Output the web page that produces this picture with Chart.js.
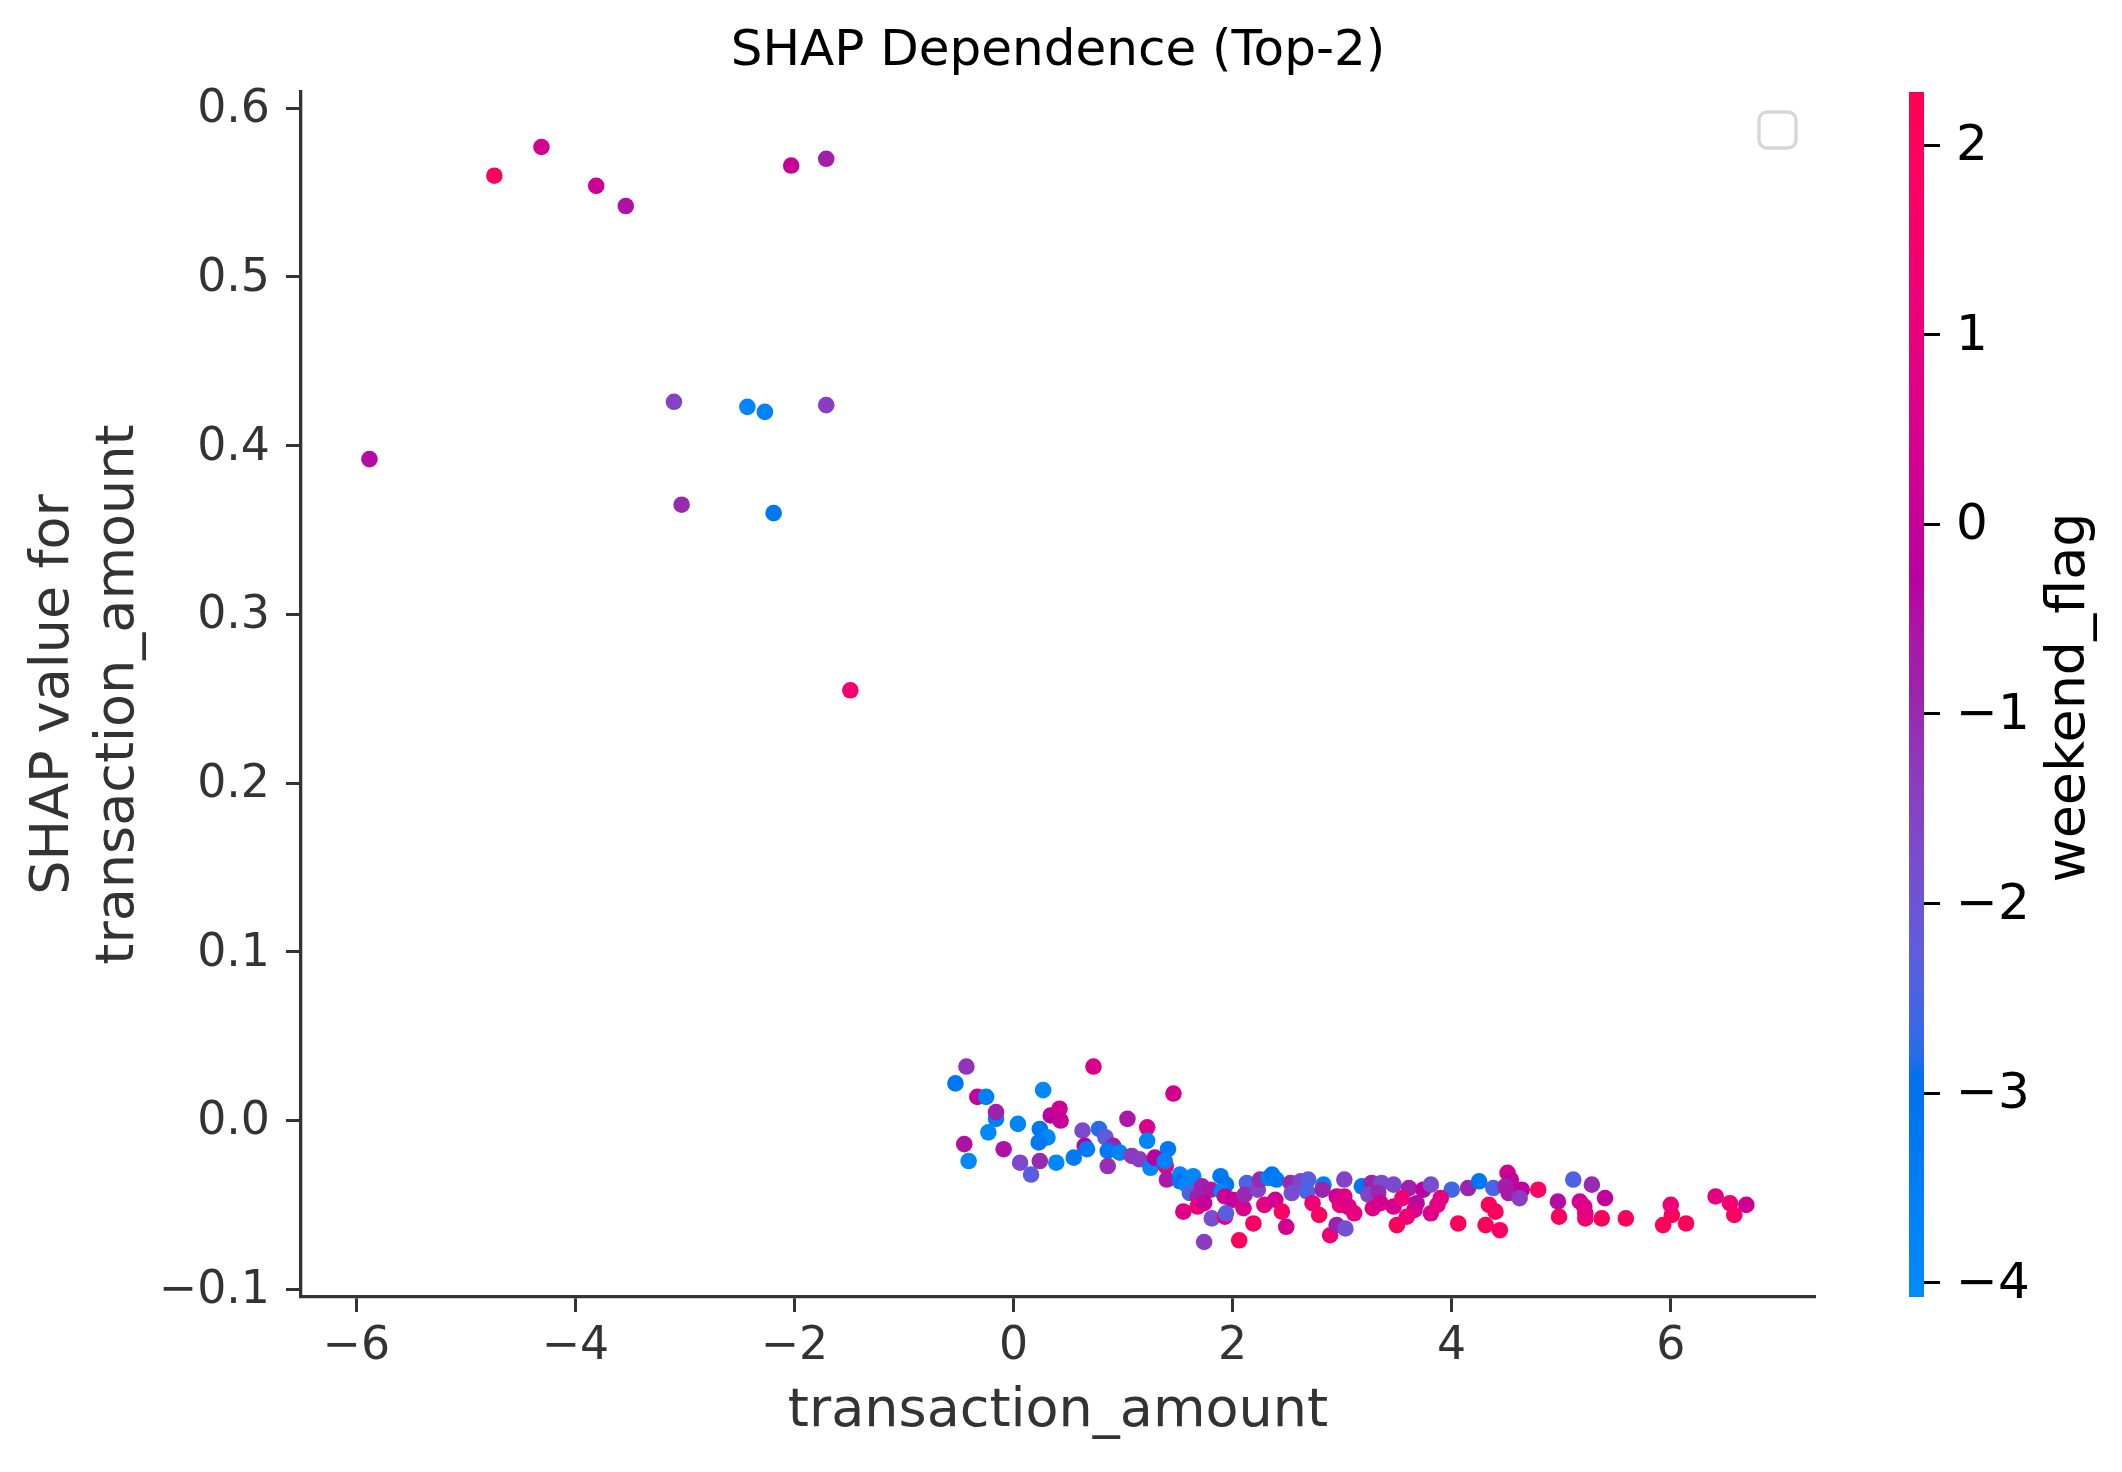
<!DOCTYPE html>
<html>
<head>
<meta charset="utf-8">
<title>SHAP Dependence (Top-2)</title>
<script src="https://cdn.jsdelivr.net/npm/chart.js@4.4.1/dist/chart.umd.min.js"></script>
<style>
  html, body { margin: 0; padding: 0; background: #fff; overflow: hidden; }
  #wrap { position: relative; width: 2122px; height: 1472px; }
  #shapChart { position: absolute; left: 0; top: 0; }
  #colorbar { position: absolute; left: 1815px; top: 0; }
</style>
</head>
<body>
<div id="wrap">
  <canvas id="shapChart" width="2122" height="1472"></canvas>
  <canvas id="colorbar" width="307" height="1472"></canvas>
</div>
<script>
// === DATA ===
const transactionAmount = [
  -5.88, -4.74, -4.31, -3.81, -3.54, -2.03, -1.71, -3.10, -2.43, -2.27, -1.71, -3.03, -2.19, -1.49,
  -0.53, -0.43, -0.33, -0.25, -0.16, -0.16, -0.23, -0.45, -0.41, -0.09, 0.04, 0.27, 0.34, 0.42, 0.43,
  0.24, 0.31, 0.23, 0.06, 0.16, 0.24, 0.39, 0.55, 0.63, 0.65, 0.67, 0.78, 0.84, 0.91, 0.86, 0.86,
  0.97, 1.04, 1.08, 1.15, 1.22, 1.22, 1.25, 0.73, 1.46,
  1.41, 1.29, 1.39, 1.38, 1.40, 1.52, 1.64, 1.52, 1.58, 1.61, 1.72, 1.80, 1.68, 1.55, 1.68, 1.74,
  1.81, 1.74, 1.89, 1.94, 1.90, 1.93, 2.00, 1.93, 1.94, 2.06, 2.10, 2.13, 2.11, 2.19, 2.23, 2.25,
  2.29, 2.33, 2.36, 2.40, 2.39, 2.45, 2.49, 2.53, 2.54, 2.62, 2.69, 2.68, 2.73, 2.79, 2.83, 2.82,
  2.89, 2.95, 2.95, 3.02, 3.03, 2.98, 3.05,
  3.18, 3.27, 3.36, 3.24, 3.33, 3.47, 3.61, 3.74, 3.81, 4.00, 4.15, 4.25, 4.38, 4.51, 4.54, 4.49,
  4.52, 4.64, 4.62, 4.79, 3.02, 3.06, 3.11, 3.28, 3.35, 3.47, 3.55, 3.68, 3.66, 3.59, 3.50, 3.81,
  3.87, 3.90, 4.06, 4.34, 4.40, 4.31, 4.44,
  5.11, 5.28, 4.97, 4.98, 5.17, 5.21, 5.22, 5.22, 5.40, 5.37, 5.59, 6.01, 6.00, 5.93, 6.14, 6.41,
  6.54, 6.58, 6.69
];
const shapValue = [
  0.392, 0.560, 0.577, 0.554, 0.542, 0.566, 0.570, 0.426, 0.423, 0.420, 0.424, 0.365, 0.360, 0.255,
  0.022, 0.032, 0.014, 0.014, 0.001, 0.005, -0.007, -0.014, -0.024, -0.017, -0.002, 0.018, 0.003, 0.007, 0.000,
  -0.005, -0.010, -0.013, -0.025, -0.032, -0.024, -0.025, -0.022, -0.006, -0.015, -0.017, -0.005, -0.010, -0.015, -0.018, -0.027,
  -0.019, 0.001, -0.021, -0.023, -0.004, -0.012, -0.028, 0.032, 0.016,
  -0.017, -0.022, -0.027, -0.024, -0.035, -0.032, -0.033, -0.036, -0.038, -0.043, -0.039, -0.041, -0.045, -0.054, -0.051, -0.049,
  -0.058, -0.072, -0.033, -0.038, -0.042, -0.045, -0.047, -0.057, -0.055, -0.071, -0.052, -0.037, -0.044, -0.061, -0.041, -0.035,
  -0.050, -0.034, -0.032, -0.035, -0.047, -0.054, -0.063, -0.037, -0.043, -0.036, -0.035, -0.042, -0.049, -0.056, -0.038, -0.041,
  -0.068, -0.045, -0.062, -0.035, -0.064, -0.050, -0.051,
  -0.039, -0.037, -0.037, -0.044, -0.043, -0.038, -0.040, -0.041, -0.038, -0.041, -0.040, -0.036, -0.040, -0.031, -0.035, -0.039,
  -0.043, -0.041, -0.046, -0.041, -0.045, -0.051, -0.055, -0.052, -0.049, -0.051, -0.046, -0.049, -0.053, -0.057, -0.062, -0.055,
  -0.050, -0.046, -0.061, -0.050, -0.054, -0.062, -0.065,
  -0.035, -0.038, -0.048, -0.057, -0.048, -0.051, -0.058, -0.055, -0.046, -0.058, -0.058, -0.056, -0.050, -0.062, -0.061, -0.045,
  -0.049, -0.056, -0.050
];
const weekendFlag = [
  -0.4, 1.8, 0.3, 0.2, -0.5, 0.0, -0.8, -1.5, -3.8, -3.7, -1.4, -1.0, -3.2, 1.4,
  -3.2, -1.2, 0.0, -3.6, -3.6, -0.8, -3.9, -0.5, -3.9, -0.5, -3.8, -3.9, -0.3, 0.3, 0.0,
  -3.2, -3.9, -3.3, -1.7, -2.3, -1.0, -3.9, -3.4, -1.7, -0.3, -3.4, -2.8, -2.2, -0.8, -3.3, -1.1,
  -3.8, -0.6, -1.3, -1.4, 0.5, -3.8, -3.8, 0.5, 0.3,
  -3.3, -0.3, 1.5, -3.7, -0.6, -3.9, -3.9, -3.2, -3.9, -2.5, -0.8, -0.6, -0.8, 0.6, 1.2, 0.0,
  -1.8, -1.4, -3.3, -3.2, -3.9, 0.2, 0.0, 1.0, -2.3, 1.9, 0.5, -2.5, -1.0, 1.7, -1.5, -1.0,
  0.8, -3.7, -3.2, -3.4, 0.3, 1.8, 0.3, -1.0, -1.8, -1.6, -2.3, -2.5, 1.2, 1.8, -3.6, -0.9,
  1.3, 0.2, -0.8, -1.5, -1.9, 1.0, 1.8,
  -3.2, -0.9, -1.7, -1.6, -1.0, -1.7, -0.8, -0.2, -1.8, -2.6, -0.9, -3.2, -2.5, 0.4, 0.0, -0.8,
  -0.6, -0.2, -1.4, 1.8, 0.6, 0.6, 0.9, 0.6, 0.4, 0.4, 1.2, -0.4, 0.4, 1.2, 1.9, 0.6,
  0.8, 0.9, 1.9, 2.0, 1.9, 2.0, 1.7,
  -2.4, -1.0, -0.4, 1.9, 0.4, 0.6, 1.8, 0.8, -0.1, 1.9, 1.9, 1.9, 1.2, 2.0, 2.0, 0.9,
  1.3, 1.8, 0.2
];

const xTicks = [-6, -4, -2, 0, 2, 4, 6];
const yTicks = [-0.1, 0.0, 0.1, 0.2, 0.3, 0.4, 0.5, 0.6];
const colorTicks = [-4, -3, -2, -1, 0, 1, 2];

const xMin = -6.505, xMax = 7.317;
const yMin = -0.1046, yMax = 0.6096;
const cMin = -4.075, cMax = 2.28;

const FONT = "'DejaVu Sans', 'Liberation Sans', sans-serif";
const AXIS_COLOR = "#333333";

// === SHAP red_blue colormap (Lch interpolation) ===
function lchToRgb(l, c, h) {
  const a = c * Math.cos(h), b = c * Math.sin(h);
  const fy = (l + 16) / 116, fx = fy + a / 500, fz = fy - b / 200;
  const f = (t) => (t > 0.2068966 ? t * t * t : (t - 16 / 116) / 7.787);
  const X = 0.95047 * f(fx), Y = f(fy), Z = 1.08883 * f(fz);
  const lin = [
    3.2404542 * X - 1.5371385 * Y - 0.4985314 * Z,
    -0.969266 * X + 1.8760108 * Y + 0.041556 * Z,
    0.0556434 * X - 0.2040259 * Y + 1.0572252 * Z,
  ];
  return lin.map((v) => {
    const s = v > 0.0031308 ? 1.055 * Math.pow(v, 1 / 2.4) - 0.055 : 12.92 * v;
    return Math.round(Math.min(1, Math.max(0, s)) * 255);
  });
}

function redBlue(t) {
  t = Math.min(1, Math.max(0, t));
  const l = t < 0.5 ? 54 - 14 * (t / 0.5) : 40 + 14 * ((t - 0.5) / 0.5);
  const c = 70 + 20 * t;
  const h = 4.6588 + (0.35470565 + 2 * Math.PI - 4.6588) * t;
  const [r, g, b] = lchToRgb(l, c, h);
  return `rgb(${r},${g},${b})`;
}

const pointColors = weekendFlag.map((v) => redBlue((v - cMin) / (cMax - cMin)));
const minusFmt = (v, digits) =>
  (v < 0 ? "\u2212" : "") + (digits ? Math.abs(v).toFixed(digits) : String(Math.abs(v)));

// empty legend frame, top right of the plot
const emptyLegend = {
  id: "emptyLegend",
  afterDraw(chart) {
    const { ctx, chartArea } = chart;
    const w = 37, h = 36, r = 8;
    const x = chartArea.right - 56, y = chartArea.top + 20;
    ctx.save();
    ctx.strokeStyle = "#d6d6d6";
    ctx.lineWidth = 3.3;
    ctx.beginPath();
    ctx.moveTo(x + r, y);
    ctx.arcTo(x + w, y, x + w, y + h, r);
    ctx.arcTo(x + w, y + h, x, y + h, r);
    ctx.arcTo(x, y + h, x, y, r);
    ctx.arcTo(x, y, x + w, y, r);
    ctx.closePath();
    ctx.stroke();
    ctx.restore();
  },
};

// === MAIN SCATTER ===
new Chart(document.getElementById("shapChart"), {
  type: "scatter",
  data: {
    datasets: [
      {
        data: transactionAmount.map((x, i) => ({ x, y: shapValue[i] })),
        backgroundColor: pointColors,
        borderWidth: 0,
        pointRadius: 8.3,
        pointHoverRadius: 8.3,
      },
    ],
  },
  options: {
    responsive: false,
    devicePixelRatio: 1,
    animation: false,
    layout: { padding: { left: 0, right: 307, top: 0, bottom: 0 } },
    plugins: {
      legend: { display: false },
      tooltip: { enabled: false },
      title: {
        display: true,
        text: "SHAP Dependence (Top-2)",
        fullSize: false,
        color: "#000",
        font: { family: FONT, size: 50, weight: "normal", lineHeight: 1.2 },
        padding: { top: 22, bottom: 10 },
      },
    },
    scales: {
      x: {
        type: "linear",
        min: xMin,
        max: xMax,
        afterFit: (s) => { s.height = 175; },
        afterBuildTicks: (s) => { s.ticks = xTicks.map((v) => ({ value: v })); },
        ticks: {
          color: AXIS_COLOR,
          font: { family: FONT, size: 45.8 },
          padding: 8,
          maxRotation: 0,
          callback: (v) => minusFmt(v),
        },
        grid: {
          display: true,
          drawOnChartArea: false,
          drawTicks: true,
          tickLength: 15,
          tickWidth: 3,
          tickColor: AXIS_COLOR,
        },
        border: { display: true, color: AXIS_COLOR, width: 3.3 },
        title: {
          display: true,
          text: "transaction_amount",
          color: AXIS_COLOR,
          font: { family: FONT, size: 54, lineHeight: 1.2 },
          padding: { top: 0, bottom: 28 },
        },
      },
      y: {
        type: "linear",
        min: yMin,
        max: yMax,
        afterFit: (s) => { s.width = 301; },
        afterBuildTicks: (s) => { s.ticks = yTicks.map((v) => ({ value: v })); },
        ticks: {
          color: AXIS_COLOR,
          font: { family: FONT, size: 45.8 },
          padding: 16,
          labelOffset: 2,
          callback: (v) => minusFmt(v, 1),
        },
        grid: {
          display: true,
          drawOnChartArea: false,
          drawTicks: true,
          tickLength: 15,
          tickWidth: 3,
          tickColor: AXIS_COLOR,
        },
        border: { display: true, color: AXIS_COLOR, width: 3.3 },
        title: {
          display: true,
          text: ["SHAP value for", "transaction_amount"],
          color: AXIS_COLOR,
          font: { family: FONT, size: 54, lineHeight: 1.2 },
          padding: { top: 21.6, bottom: 0 },
        },
      },
    },
  },
  plugins: [emptyLegend],
});

// === COLORBAR ===
const colorbarFill = {
  id: "colorbarFill",
  beforeDatasetsDraw(chart) {
    const { ctx, chartArea: a } = chart;
    const y = chart.scales.y;
    const g = ctx.createLinearGradient(0, y.getPixelForValue(cMin), 0, y.getPixelForValue(cMax));
    for (let i = 0; i <= 60; i++) g.addColorStop(i / 60, redBlue(i / 60));
    ctx.save();
    ctx.fillStyle = g;
    ctx.fillRect(a.left, a.top, a.width, a.height);
    // colorbar label, reading bottom to top
    ctx.translate(a.right + 146, (a.top + a.bottom) / 2 + 3);
    ctx.rotate(-Math.PI / 2);
    ctx.fillStyle = "#000";
    ctx.font = `54px ${FONT}`;
    ctx.textAlign = "center";
    ctx.textBaseline = "middle";
    ctx.fillText("weekend_flag", 0, 0);
    ctx.restore();
  },
};

new Chart(document.getElementById("colorbar"), {
  type: "scatter",
  data: { datasets: [] },
  options: {
    responsive: false,
    devicePixelRatio: 1,
    animation: false,
    layout: { padding: { left: 94, right: 0, top: 92, bottom: 175 } },
    plugins: { legend: { display: false }, tooltip: { enabled: false } },
    scales: {
      x: { display: false, min: 0, max: 1 },
      y: {
        position: "right",
        min: cMin,
        max: cMax,
        afterFit: (s) => { s.width = 307 - 94 - 15; },
        afterBuildTicks: (s) => { s.ticks = colorTicks.map((v) => ({ value: v })); },
        ticks: {
          color: "#000",
          font: { family: FONT, size: 50 },
          padding: 16,
          labelOffset: 2,
          callback: (v) => minusFmt(v),
        },
        grid: {
          display: true,
          drawOnChartArea: false,
          drawTicks: true,
          tickLength: 16,
          tickWidth: 3,
          tickColor: "#000",
        },
        border: { display: false },
      },
    },
  },
  plugins: [colorbarFill],
});
</script>
</body>
</html>
